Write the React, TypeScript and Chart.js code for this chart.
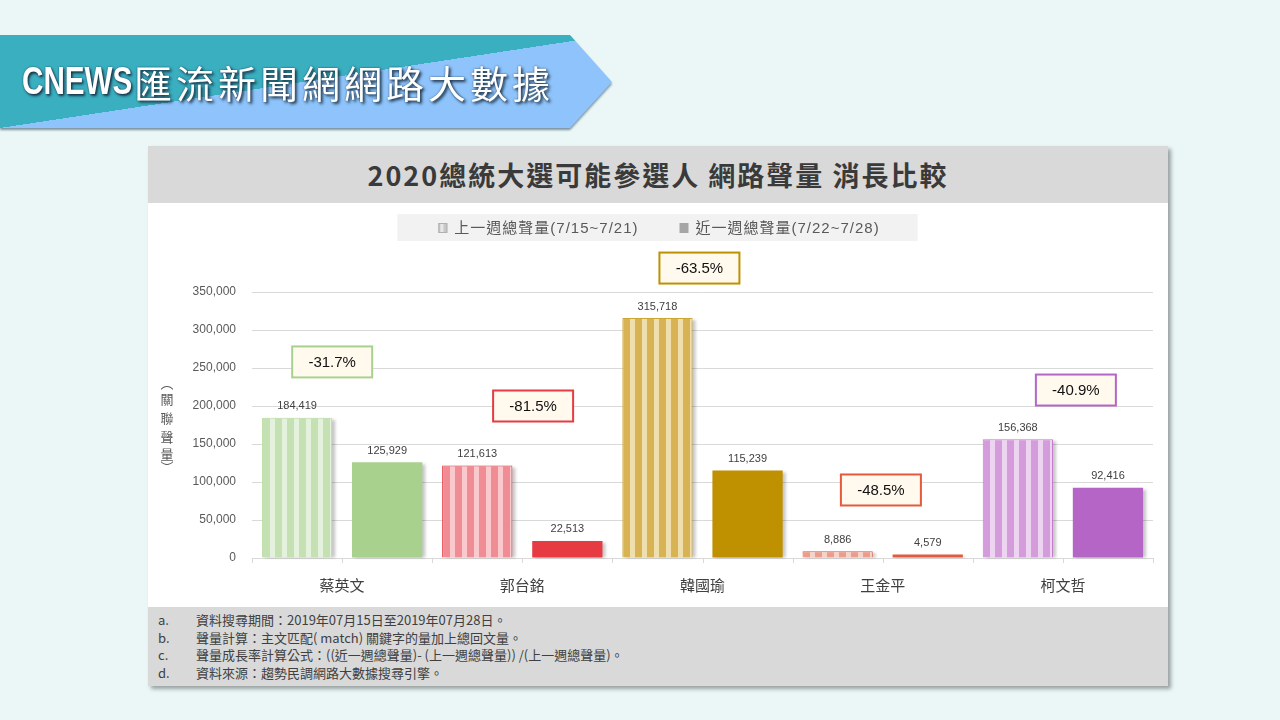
import React, { useEffect, useRef } from 'react';
import { Chart, registerables } from 'chart.js';

Chart.register(...registerables);

// ---------- data ----------
const categories = ['蔡英文', '郭台銘', '韓國瑜', '王金平', '柯文哲'];
const prevWeek = [184419, 121613, 315718, 8886, 156368];
const lastWeek = [125929, 22513, 115239, 4579, 92416];
const changeLabels = ['-31.7%', '-81.5%', '-63.5%', '-48.5%', '-40.9%'];
const seriesNames = ['上一週總聲量(7/15~7/21)', '近一週總聲量(7/22~7/28)'];
const yMax = 350000;
const yStep = 50000;
const yTitleChars = ['︵', '關', '聯', '聲', '量', '︶'];
const bannerText = 'CNEWS匯流新聞網網路大數據';
const chartTitle = '2020總統大選可能參選人 網路聲量 消長比較';
const footnoteKeys = ['a.', 'b.', 'c.', 'd.'];
const footnotes = [
  '資料搜尋期間：2019年07月15日至2019年07月28日。',
  '聲量計算：主文匹配( match) 關鍵字的量加上總回文量。',
  '聲量成長率計算公式：((近一週總聲量)- (上一週總聲量)) /(上一週總聲量)。',
  '資料來源：趨勢民調網路大數據搜尋引擎。',
];

// ---------- styles ----------
const stripeDark = ['#C5E0B3', '#F08C94', '#D8B353', '#EC9C8B', '#D59CDC'];
const stripeLight = ['#E4F1DC', '#FAC9CD', '#EFDFAE', '#F8D2C9', '#EDD4F0'];
const prevBorder = ['#B9DAA2', '#E8353F', '#CDA436', '#E35A3C', '#C47CCD'];
const solidColors = ['#A9D18E', '#E73B44', '#BF9000', '#E35A3C', '#B565C6'];
// box placement relative to category center (fraction of category) and value axis
const boxOffsetX = [-0.055, 0.06, -0.017, -0.01, 0.072];
const boxValueY = [258000, 200000, 381500, 89500, 221000];

const LATIN = '"Liberation Sans", "Noto Sans CJK TC", sans-serif';
const NARROW = '"Liberation Sans Narrow", "Noto Sans CJK TC", sans-serif';
const CJK = '"Noto Sans CJK TC", "Liberation Sans", sans-serif';

function makeStripe(dark: string, light: string): CanvasPattern | string {
  const c = document.createElement('canvas');
  c.width = 12;
  c.height = 4;
  const g = c.getContext('2d');
  if (!g) return dark;
  g.fillStyle = dark;
  g.fillRect(0, 0, 12, 4);
  g.fillStyle = light;
  g.fillRect(2, 0, 5, 4);
  const p = g.createPattern(c, 'repeat');
  return p || dark;
}

const decorPlugin = {
  id: 'decor',
  beforeDatasetsDraw(chart: any) {
    const ctx = chart.ctx;
    ctx.save();
    ctx.fillStyle = 'rgba(0,0,0,0.22)';
    (ctx as any).filter = 'blur(1.5px)';
    chart.data.datasets.forEach((_: any, di: number) => {
      const meta = chart.getDatasetMeta(di);
      meta.data.forEach((bar: any) => {
        const p = bar.getProps(['x', 'y', 'base', 'width'], true);
        const left = p.x - p.width / 2;
        ctx.fillRect(left + 3, p.y + 2, p.width, p.base - p.y - 2);
      });
    });
    ctx.restore();
  },
  afterDatasetsDraw(chart: any) {
    const ctx = chart.ctx;
    const xs = chart.scales.x;
    const ys = chart.scales.y;
    // value labels
    ctx.save();
    ctx.font = `11px ${LATIN}`;
    ctx.fillStyle = '#404040';
    ctx.textAlign = 'center';
    ctx.textBaseline = 'bottom';
    chart.data.datasets.forEach((ds: any, di: number) => {
      const meta = chart.getDatasetMeta(di);
      meta.data.forEach((bar: any, i: number) => {
        const p = bar.getProps(['x', 'y'], true);
        ctx.fillText(Number(ds.data[i]).toLocaleString('en-US'), p.x, p.y - 6);
      });
    });
    ctx.restore();
    // change boxes
    ctx.save();
    changeLabels.forEach((t, i) => {
      const cx = xs.getPixelForValue(i + boxOffsetX[i]);
      const cy = ys.getPixelForValue(boxValueY[i]);
      const w = 80, h = 31;
      ctx.fillStyle = '#FFF9EE';
      ctx.fillRect(cx - w / 2, cy - h / 2, w, h);
      ctx.lineWidth = 2;
      ctx.strokeStyle = solidColors[i];
      ctx.strokeRect(cx - w / 2, cy - h / 2, w, h);
      ctx.fillStyle = '#111';
      ctx.font = `15px ${LATIN}`;
      ctx.textAlign = 'center';
      ctx.textBaseline = 'middle';
      ctx.fillText(t, cx, cy + 1);
    });
    ctx.restore();
  },
  afterDraw(chart: any) {
    const ctx = chart.ctx;
    const area = chart.chartArea;
    // x tick marks every half category
    ctx.save();
    ctx.strokeStyle = '#D9D9D9';
    ctx.lineWidth = 1;
    const half = (area.right - area.left) / categories.length / 2;
    for (let k = 0; k <= categories.length * 2; k++) {
      const x = Math.round(area.left + k * half) + 0.5;
      ctx.beginPath();
      ctx.moveTo(x, area.bottom);
      ctx.lineTo(x, area.bottom + 5);
      ctx.stroke();
    }
    ctx.restore();
    // y title, vertical stacked
    ctx.save();
    ctx.font = `13px ${CJK}`;
    ctx.fillStyle = '#595959';
    ctx.textAlign = 'center';
    ctx.textBaseline = 'middle';
    const ty = [180, 196, 215, 234, 251, 264];
    yTitleChars.forEach((ch, i) => ctx.fillText(ch, 19, ty[i]));
    ctx.restore();
    // legend
    ctx.save();
    ctx.font = `15px ${LATIN}`;
    try {
      (ctx as any).letterSpacing = '1px';
    } catch (e) {
      /* ignore */
    }
    const w1 = ctx.measureText(seriesNames[0]).width;
    const w2 = ctx.measureText(seriesNames[1]).width;
    const icon = 9, gap = 7, itemGap = 41;
    const total = icon + gap + w1 + itemGap + icon + gap + w2;
    const cx = chart.width / 2 + 1;
    const start = cx - total / 2;
    ctx.fillStyle = '#F2F2F2';
    ctx.fillRect(start - 41, 11, total + 41 + 38, 27);
    const ly = 25;
    // icon 1 striped
    ctx.fillStyle = '#C8C8C8';
    ctx.fillRect(start, ly - 5, icon, 10);
    ctx.fillStyle = '#E8E8E8';
    ctx.fillRect(start + 2, ly - 5, 3, 10);
    ctx.strokeStyle = '#B0B0B0';
    ctx.lineWidth = 1;
    ctx.strokeRect(start + 0.5, ly - 4.5, icon - 1, 9);
    ctx.fillStyle = '#595959';
    ctx.textBaseline = 'middle';
    ctx.textAlign = 'left';
    ctx.fillText(seriesNames[0], start + icon + gap, ly + 1);
    const s2 = start + icon + gap + w1 + itemGap;
    ctx.fillStyle = '#A6A6A6';
    ctx.fillRect(s2, ly - 5, icon, 10);
    ctx.fillStyle = '#595959';
    ctx.fillText(seriesNames[1], s2 + icon + gap, ly + 1);
    ctx.restore();
  },
};

function BarChart() {
  const ref = useRef<HTMLCanvasElement | null>(null);
  useEffect(() => {
    if (!ref.current) return;
    Chart.defaults.font.family = LATIN;
    const patterns = stripeDark.map((d, i) => makeStripe(d, stripeLight[i]));
    const chart = new Chart(ref.current, {
      type: 'bar',
      data: {
        labels: categories,
        datasets: [
          {
            label: seriesNames[0],
            data: prevWeek,
            backgroundColor: patterns as any,
            borderColor: prevBorder,
            borderWidth: 1,
            barPercentage: 0.78,
            categoryPercentage: 1,
          },
          {
            label: seriesNames[1],
            data: lastWeek,
            backgroundColor: solidColors,
            borderWidth: 0,
            barPercentage: 0.78,
            categoryPercentage: 1,
          },
        ],
      },
      options: {
        responsive: false,
        animation: false,
        devicePixelRatio: 1,
        layout: { padding: { top: 89, right: 15, left: 0, bottom: 0 } },
        plugins: {
          legend: { display: false },
          tooltip: { enabled: false },
          title: { display: false },
        },
        scales: {
          x: {
            grid: { display: false, drawTicks: false },
            border: { color: '#D9D9D9', width: 1 },
            ticks: { padding: 18, color: '#404040', font: { size: 15, family: CJK } },
            afterFit: (s: any) => {
              s.height = 49;
            },
          },
          y: {
            min: 0,
            max: yMax,
            ticks: { stepSize: yStep, padding: 16, color: '#595959', font: { size: 12, family: LATIN } },
            grid: { color: '#D9D9D9', drawTicks: false },
            border: { display: false },
            afterFit: (s: any) => {
              s.width = 104;
            },
          },
        },
      },
      plugins: [decorPlugin],
    });
    return () => chart.destroy();
  }, []);
  return <canvas ref={ref} width={1020} height={404} style={{ width: 1020, height: 404, display: 'block' }} />;
}

export default function App() {
  return (
    <div
      style={{
        position: 'fixed',
        left: 0,
        top: 0,
        width: 1280,
        height: 720,
        background: '#EBF7F7',
        overflow: 'hidden',
        fontFamily: CJK,
      }}
    >
      {/* banner */}
      <div style={{ position: 'absolute', left: 0, top: 35, width: 614, height: 96, filter: 'drop-shadow(0px 2px 1px rgba(30,60,90,0.55))' }}>
        <div
          style={{
            position: 'absolute',
            left: 0,
            top: 0,
            width: 612,
            height: 93,
            clipPath: 'polygon(0 0, 570px 0, 612px 47px, 570px 93px, 0 93px)',
            background: 'linear-gradient(to bottom right, #3AAFC0 50%, #8EC4FB 50%)',
          }}
        />
        <div
          style={{
            position: 'absolute',
            left: 22,
            top: 0,
            height: 93,
            display: 'flex',
            alignItems: 'center',
            color: '#FFFFFF',
            fontSize: 38,
            fontWeight: 400,
            letterSpacing: 4,
            textShadow: '2px 2px 3px rgba(20,40,60,0.9), 0 0 2px rgba(20,40,60,0.7)',
            whiteSpace: 'nowrap',
          }}
        >
          <span style={{ display: 'inline-block', fontFamily: LATIN, fontWeight: 700, fontSize: 38, letterSpacing: 0, transform: 'scaleX(0.78)', transformOrigin: 'left center', width: 112 }}>
            {bannerText.slice(0, 5)}
          </span>
          <span>{bannerText.slice(5)}</span>
        </div>
      </div>

      {/* card */}
      <div
        style={{
          position: 'absolute',
          left: 148,
          top: 146,
          width: 1020,
          height: 540,
          background: '#FFFFFF',
          boxShadow: '3px 3px 4px rgba(0,0,0,0.35)',
        }}
      >
        <div
          style={{
            position: 'absolute',
            left: 0,
            top: 0,
            width: 1020,
            height: 57,
            background: '#D9D9D9',
            display: 'flex',
            alignItems: 'center',
            justifyContent: 'center',
            color: '#3A3A3A',
            fontSize: 27,
            letterSpacing: 2,
            fontWeight: 700,
            whiteSpace: 'pre',
          }}
        >
          {chartTitle}
        </div>
        <div style={{ position: 'absolute', left: 0, top: 57 }}>
          <BarChart />
        </div>
        <div
          style={{
            position: 'absolute',
            left: 0,
            top: 461,
            width: 1020,
            height: 79,
            background: '#D9D9D9',
            color: '#404040',
            fontSize: 13,
            lineHeight: '17.7px',
            paddingTop: 4,
            boxSizing: 'border-box',
          }}
        >
          {footnotes.map((f, i) => (
            <div key={i} style={{ display: 'flex', whiteSpace: 'pre' }}>
              <span style={{ width: 38, paddingLeft: 10, fontFamily: NARROW }}>{footnoteKeys[i]}</span>
              <span style={{ fontFamily: NARROW }}>{f}</span>
            </div>
          ))}
        </div>
      </div>
    </div>
  );
}
